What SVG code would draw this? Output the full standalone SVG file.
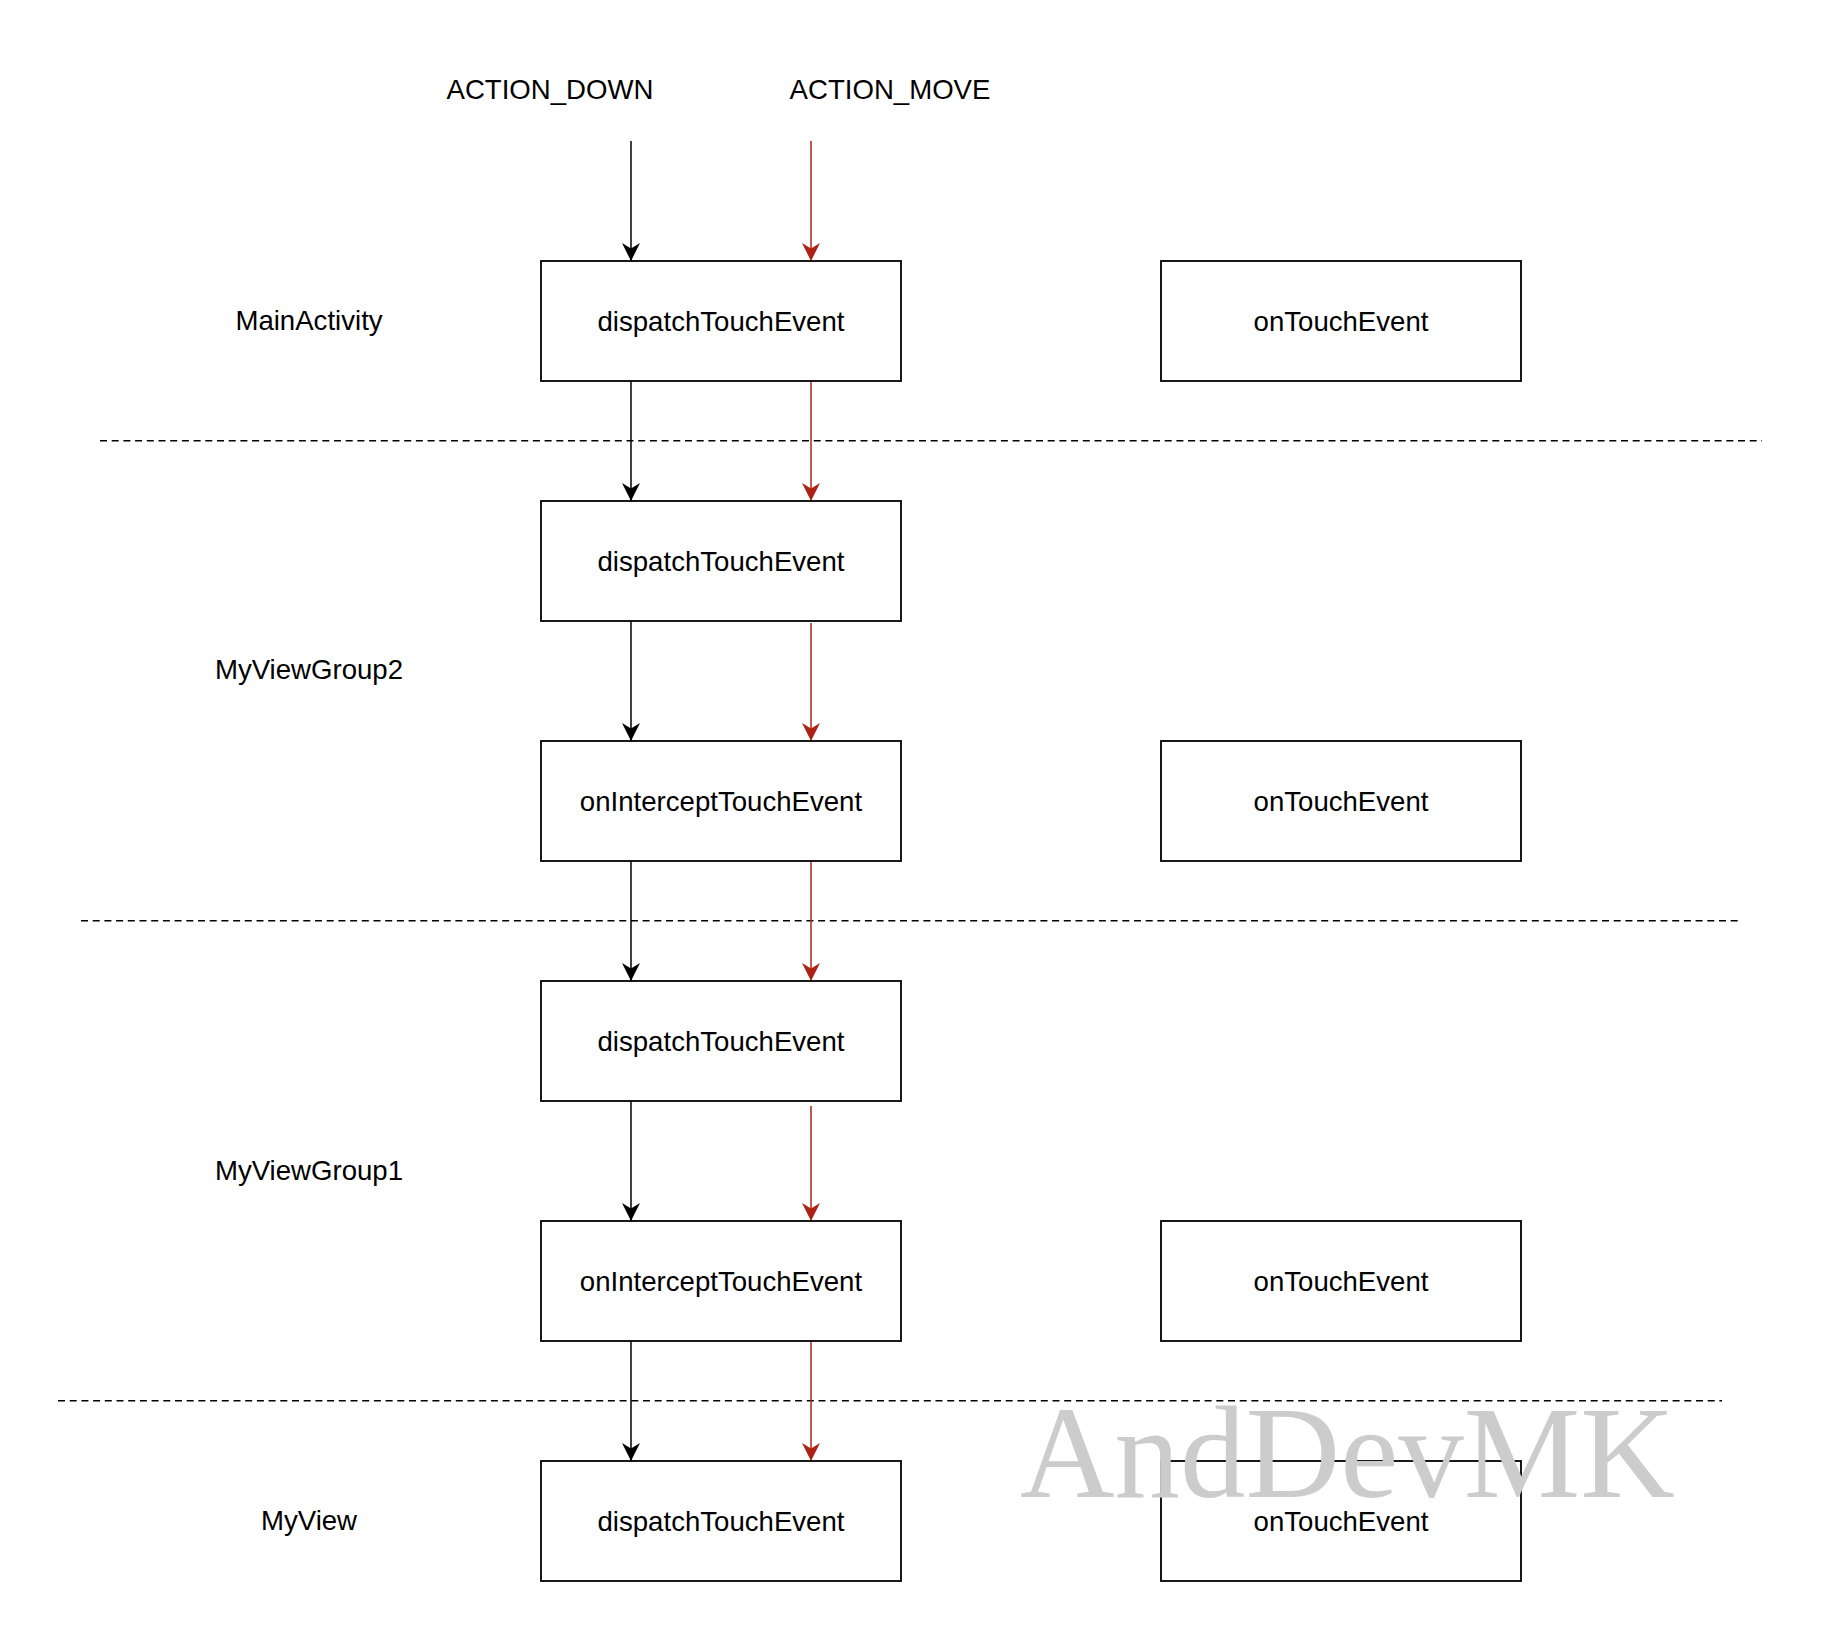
<svg xmlns="http://www.w3.org/2000/svg" width="1824" height="1642" viewBox="0 0 1824 1642">
<style>
.box{fill:#ffffff;stroke:#000000;stroke-width:1.8}
.t{font-family:"Liberation Sans",Arial,Helvetica,sans-serif;font-size:27.6px;fill:#000000;text-anchor:middle}
.sep{stroke:#000000;stroke-width:1.6;stroke-dasharray:7 4.7;fill:none}
.ab{stroke:#000000;stroke-width:1.5;fill:none;marker-end:url(#mb)}
.ar{stroke:#AB2217;stroke-width:1.5;fill:none;marker-end:url(#mr)}
.wm{font-family:"Liberation Serif","Times New Roman",serif;font-size:131px;fill:#cccccc}
</style>
<defs>
<marker id="mb" markerUnits="userSpaceOnUse" markerWidth="18" markerHeight="18" refX="18" refY="9" orient="auto" viewBox="0 0 18 18">
<path d="M18,9 L0,0 L5.5,9 L0,18 Z" fill="#000000"/>
</marker>
<marker id="mr" markerUnits="userSpaceOnUse" markerWidth="18" markerHeight="18" refX="18" refY="9" orient="auto" viewBox="0 0 18 18">
<path d="M18,9 L0,0 L5.5,9 L0,18 Z" fill="#AB2217"/>
</marker>
</defs>
<rect width="1824" height="1642" fill="#ffffff"/>

<g id="separators">
<line class="sep" x1="100" y1="440.7" x2="1762" y2="440.7"/>
<line class="sep" x1="81" y1="920.7" x2="1741" y2="920.7"/>
<line class="sep" x1="58" y1="1400.7" x2="1722" y2="1400.7"/>
</g>

<g id="labels">
<text id="lbl-action-down" class="t" x="550" y="99">ACTION_DOWN</text>
<text id="lbl-action-move" class="t" x="890" y="99">ACTION_MOVE</text>
<text id="lbl-mainactivity" class="t" x="309" y="329.5">MainActivity</text>
<text id="lbl-myviewgroup2" class="t" x="309" y="679">MyViewGroup2</text>
<text id="lbl-myviewgroup1" class="t" x="309" y="1179.5">MyViewGroup1</text>
<text id="lbl-myview" class="t" x="309" y="1530">MyView</text>
</g>

<g id="connectors">
<line class="ab" x1="631" y1="141" x2="631" y2="261"/>
<line class="ar" x1="811" y1="141" x2="811" y2="261"/>
<line class="ab" x1="631" y1="381" x2="631" y2="501"/>
<line class="ar" x1="811" y1="381" x2="811" y2="501"/>
<line class="ab" x1="631" y1="621" x2="631" y2="741"/>
<line class="ar" x1="811" y1="623" x2="811" y2="741"/>
<line class="ab" x1="631" y1="861" x2="631" y2="981"/>
<line class="ar" x1="811" y1="861" x2="811" y2="981"/>
<line class="ab" x1="631" y1="1101" x2="631" y2="1221"/>
<line class="ar" x1="811" y1="1106" x2="811" y2="1221"/>
<line class="ab" x1="631" y1="1341" x2="631" y2="1461"/>
<line class="ar" x1="811" y1="1341" x2="811" y2="1461"/>
</g>

<g id="ma-dispatch"><rect class="box" x="541" y="261" width="360" height="120"/><text class="t" x="721" y="330.5">dispatchTouchEvent</text></g>
<g id="ma-ontouch"><rect class="box" x="1161" y="261" width="360" height="120"/><text class="t" x="1341" y="330.5">onTouchEvent</text></g>

<g id="vg2-dispatch"><rect class="box" x="541" y="501" width="360" height="120"/><text class="t" x="721" y="570.5">dispatchTouchEvent</text></g>
<g id="vg2-intercept"><rect class="box" x="541" y="741" width="360" height="120"/><text class="t" x="721" y="810.5">onInterceptTouchEvent</text></g>
<g id="vg2-ontouch"><rect class="box" x="1161" y="741" width="360" height="120"/><text class="t" x="1341" y="810.5">onTouchEvent</text></g>

<g id="vg1-dispatch"><rect class="box" x="541" y="981" width="360" height="120"/><text class="t" x="721" y="1050.5">dispatchTouchEvent</text></g>
<g id="vg1-intercept"><rect class="box" x="541" y="1221" width="360" height="120"/><text class="t" x="721" y="1290.5">onInterceptTouchEvent</text></g>
<g id="vg1-ontouch"><rect class="box" x="1161" y="1221" width="360" height="120"/><text class="t" x="1341" y="1290.5">onTouchEvent</text></g>

<g id="v-dispatch"><rect class="box" x="541" y="1461" width="360" height="120"/><text class="t" x="721" y="1530.5">dispatchTouchEvent</text></g>
<g id="v-ontouch"><rect class="box" x="1161" y="1461" width="360" height="120"/><text class="t" x="1341" y="1530.5">onTouchEvent</text></g>

<g id="watermark"><text class="wm" x="1020" y="1497">AndDevMK</text></g>
</svg>
